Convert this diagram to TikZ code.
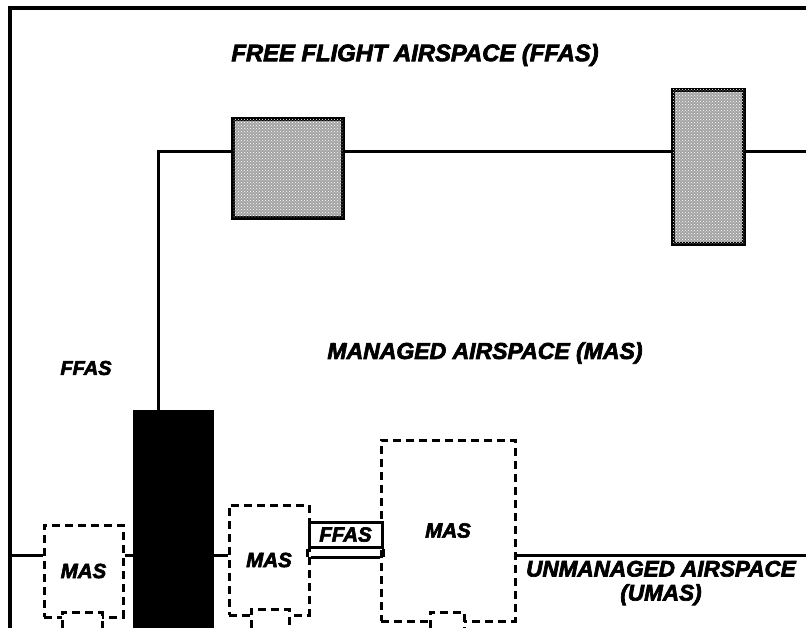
\documentclass[tikz,border=0pt]{standalone}
\usepackage{fontspec}
\setmainfont{Liberation Sans}[BoldItalicFeatures={FakeBold=3}]
\usetikzlibrary{patterns}
\begin{document}
\begin{tikzpicture}[x=1pt,y=-1pt,
  lbl/.style={font=\fontsize{23}{24}\selectfont\bfseries\itshape, inner sep=0pt},
  slbl/.style={font=\fontsize{20}{22}\selectfont\bfseries\itshape, inner sep=0pt},
  bound/.style={line width=3.4pt},
  conn/.style={line width=3pt},
  greybox/.style={draw, line width=3.2pt, fill=gray!72, postaction={pattern=crosshatch dots, pattern color=white}, inner sep=0pt},
  blackbox/.style={draw, fill=black, inner sep=0pt},
  masbox/.style={draw, dash pattern=on 8pt off 5pt, line width=3pt, inner sep=0pt, fill=white,
    font=\fontsize{20.5}{22}\selectfont\bfseries\itshape},
  subbox/.style={draw, dash pattern=on 8pt off 5pt, line width=3pt, fill=white},
  ffbox/.style={draw, line width=3pt, inner sep=0pt, fill=white, font=\fontsize{20.5}{21}\selectfont\bfseries\itshape}
]
\useasboundingbox (0,0) rectangle (806,628);
\fill[white] (0,0) rectangle (806,628);

% outer border
\draw[bound] (10,628) -- (10,8) -- (806,8);

% grey boxes on the FFAS/MAS boundary
\node[greybox, minimum width=110pt, minimum height=99pt] (ta) at (288,168.5) {};
\node[greybox, minimum width=71pt, minimum height=154pt] (vt) at (708.5,167) {};

% black column
\node[blackbox, minimum width=80pt, minimum height=218pt] (cb) at (173,519) {};

% coordinates for boundary lines
\coordinate (c1) at (158,152);
\coordinate (re) at (806,152);
\coordinate (lb) at (10,555);
\coordinate (rb) at (806,555);
\coordinate (ul) at (0,557);

% MAS / FFAS upper boundary
\draw[conn] (cb.north -| c1) -- (c1) -- (ta.west |- c1);
\draw[conn] (ta.east |- c1) -- (vt.west |- c1);
\draw[conn] (vt.east |- c1) -- (re);

% MAS boxes
\node[masbox, minimum width=79pt, minimum height=92pt] (m1) at (83.5,571) {MAS};
\node[masbox, minimum width=80pt, minimum height=110pt] (m2) at (269,560) {MAS};
\node[masbox, minimum width=134pt, minimum height=181pt] (m3) at (448,530.5) {MAS};

% sub-boxes below MAS boxes
\draw[subbox] (62,628) -- (62,612) -- (102,612) -- (102,628);
\draw[subbox] (251,628) -- (251,609) -- (289,609) -- (289,628);
\draw[subbox] (430,628) -- (430,612) -- (464,612) -- (464,628);

% FFAS corridor between MAS boxes
\node[ffbox, minimum width=73pt, minimum height=25pt] (fb) at (345.5,534.5) {FFAS};
\draw[conn] (ul -| m2.east) -- (ul -| m3.west);
\draw[conn] (fb.south west) -- (ul -| fb.west);
\draw[conn] (fb.south east) -- (ul -| fb.east);

% UMAS boundary
\draw[conn] (lb) -- (lb -| m1.west);
\draw[conn] (lb -| m1.east) -- (lb -| cb.west);
\draw[conn] (lb -| cb.east) -- (lb -| m2.west);
\draw[conn] (lb -| m3.east) -- (rb);

% labels
\node[lbl, font=\fontsize{23.8}{25}\selectfont\bfseries\itshape] (tffas) at (415,55) {FREE FLIGHT AIRSPACE (FFAS)};
\node[lbl] (tmas) at (485,353) {MANAGED AIRSPACE (MAS)};
\node[slbl] (tffl) at (86,368) {FFAS};
\node[lbl, align=center, font=\fontsize{22.5}{24}\selectfont\bfseries\itshape] (tumas) at (661,583) {UNMANAGED AIRSPACE\\(UMAS)};
\end{tikzpicture}
\end{document}
